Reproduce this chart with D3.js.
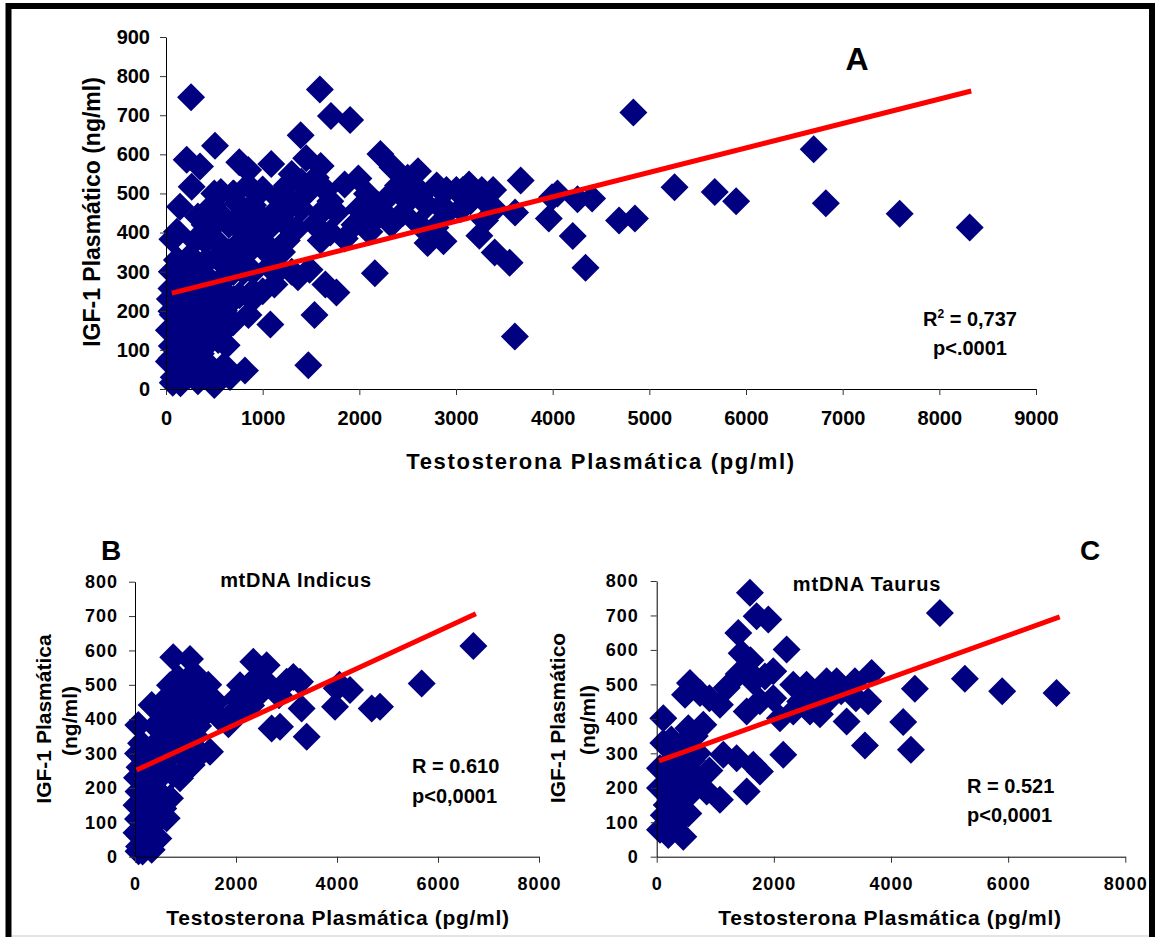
<!DOCTYPE html>
<html>
<head>
<meta charset="utf-8">
<script src="https://cdn.jsdelivr.net/npm/d3@7/dist/d3.min.js"></script>
<style>
  body { margin:0; background:#fff; }
  text { font-family: "Liberation Sans", Arial, sans-serif; font-weight: bold; fill:#000; }
</style>
</head>
<body>
<script>

// testosterone (pg/ml), IGF-1 (ng/ml)

// mtDNA Indicus (panel B)
var indicus = [
  [66,383],[120,330],[60,300],[180,310],[90,260],[40,230],[150,240],[230,270],[300,300],
  [70,190],[160,200],[250,210],[340,240],[420,330],[30,150],[110,160],[200,150],[290,180],
  [380,200],[480,230],[60,110],[140,120],[230,100],[320,130],[410,160],[520,180],[30,70],
  [100,60],[180,80],[270,60],[360,90],[450,120],[627,112],[80,30],[150,15],[240,35],
  [330,20],[462,53],[70,16],[550,260],[650,300],[495,383],[330,441],[825,344],[627,286],
  [1023,373],[891,228],[1122,267],[693,170],[500,420],[600,350],[800,400],[700,330],
  [900,300],[1000,250],[1200,350],[1300,300],[400,380],[850,520],[1100,420],[1250,520],
  [550,450],[760,240],[380,280],[560,140],
  [758,580],[1089,575],[693,499],[900,470],[1000,510],[1150,490],[1300,470],[1450,500],
  [1200,430],[950,420],[800,450],[1350,410],[1600,450],[1700,400],[1850,385],[1950,420],
  [2079,499],[2200,470],[2343,567],[2607,557],[2400,520],[2500,480],[2300,440],[2706,373],
  [3004,509],[3267,509],[3135,523],[3300,431],[3400,349],[2000,460],[2150,430],[2650,500],
  [2850,470],[1485,305],[1100,320],[1250,380],[4050,500],[3994,490],[3960,436],[4257,485],
  [4687,431],[4851,436],[5677,504],[6700,613],[2871,378]
]

// mtDNA Taurus (panel C)
var taurus = [
  [1592,766],[1706,698],[1905,688],[1393,649],[2218,601],[1450,590],[1600,570],[1550,540],
  [1400,530],[1195,490],[568,504],[483,470],[739,475],[1080,441],[900,460],[113,402],
  [113,330],[540,373],[796,383],[250,340],[400,320],[1137,296],[1365,286],[1649,267],
  [1763,247],[2161,296],[1536,189],[1080,165],[853,189],[56,199],[454,228],[56,257],
  [200,270],[320,250],[600,280],[700,230],[56,78],[198,63],[454,58],[227,112],[540,125],
  [171,150],[350,170],[260,210],[420,140],[300,300],[150,250],[600,200],[700,300],
  [350,100],[500,170],[250,160],[650,350],[900,250],[120,120],
  [2901,509],[3072,509],[3242,392],[2331,421],
  [2616,421],[2787,413],[2104,402],[2331,499],[2559,499],[1536,421],[1763,451],[1990,460],
  [1649,509],[1848,523],[1990,538],[2700,470],[2900,450],[3150,480],[3400,460],[4835,707],
  [5261,516],[5898,480],[6826,475],[4408,487],[4208,391],[4340,310],[3555,323],[3669,533],
  [3611,451],[3384,509],[2450,450]
]

// animals only in the pooled plot (panel A)
var untyped = [
  [259,746],[507,622],[214,586],[352,569],[266,517],[145,466],[3609,134],[7590,448],
  [8314,413],[1472,61],[817,47],[662,31],[400,420],[300,380],[550,330],[450,280],[350,200],
  [250,130],[600,60],[500,10],[1000,360],[1300,550],[1700,480],[2500,540],[2800,520],
  [3050,460],[3300,480],[650,420],[800,300],[950,380],[1150,450],[700,500],[500,500],
  [400,250],[600,240],[300,120],[450,40],[1250,420],[1600,380],[850,560],[1400,460]
]

var pooled = untyped.concat(indicus, taurus)

// regression lines (end points)
var trendA = [[60,245],[8330,762]]
var trendB = [[30,252],[6750,707]]
var trendC = [[40,278],[6880,696]]

var xTicksA = [0,1000,2000,3000,4000,5000,6000,7000,8000,9000]
var yTicksA = [0,100,200,300,400,500,600,700,800,900]
var xTicksBC = [0,2000,4000,6000,8000]
var yTicksBC = [0,100,200,300,400,500,600,700,800]

var w = 1155
var h = 937
var navy = "#000080"

var svg = d3.select("body").append("svg").attr("width",w).attr("height",h)

// outer frame
svg.append("rect").attr("x",8.5).attr("y",6).attr("width",1143.5).attr("height",h)
   .attr("fill","none").attr("stroke","#000").attr("stroke-width",6)
svg.append("rect").attr("x",12).attr("y",935).attr("width",1137).attr("height",2).attr("fill","#e4e4e4")

function panel(pts, trend, xs, ys, xTicks, yTicks, o){

  var g = svg.append("g")

  g.selectAll(".pt")
   .data(pts)
   .enter()
   .append("path")
   .attr("class","pt")
   .attr("d", d3.symbol(d3.symbolSquare, 392))
   .attr("transform", function(d){
       return "translate(" + xs(d[0]) + "," + ys(d[1]) + ") rotate(45)"
   })
   .attr("fill", navy)

  var line = d3.line()
      .x(function(d){ return xs(d[0]) })
      .y(function(d){ return ys(d[1]) })

  g.append("path").datum(trend).attr("d",line)
   .attr("stroke","#ff0000").attr("stroke-width",5).attr("fill","none")

  var fmt = d3.format("d")
  var xg = g.append("g")
      .attr("transform","translate(0," + ys(0) + ")")
      .call(d3.axisBottom(xs).tickValues(xTicks).tickFormat(fmt).tickSize(6).tickSizeOuter(0).tickPadding(o.xPad))
  var yg = g.append("g")
      .attr("transform","translate(" + xs(0) + ",0)")
      .call(d3.axisLeft(ys).tickValues(yTicks).tickFormat(fmt).tickSize(6).tickSizeOuter(0).tickPadding(o.yPad))

  ;[xg,yg].forEach(function(a){
    a.attr("font-family",null).attr("font-size",null)
    a.select(".domain").attr("stroke","#000")
    a.selectAll(".tick line").attr("stroke","#333")
    a.selectAll("text").style("font-size",o.tickFont+"px").style("letter-spacing",o.tickLs+"px")
  })
  return g
}

// ---- panel A
var xA = d3.scaleLinear().domain([0,9000]).range([166,1036])
var yA = d3.scaleLinear().domain([0,900]).range([389,37])
panel(pooled, trendA, xA, yA, xTicksA, yTicksA, {xPad:16, yPad:10, tickFont:20, tickLs:0})

svg.append("text").attr("x",857).attr("y",70).attr("text-anchor","middle")
   .style("font-size","32px").text("A")
var r2 = svg.append("text").attr("x",970).attr("y",326).attr("text-anchor","middle").style("font-size","20px")
r2.append("tspan").text("R")
r2.append("tspan").attr("dy",-8).style("font-size","12px").text("2")
r2.append("tspan").attr("dy",8).text(" = 0,737")
svg.append("text").attr("x",970).attr("y",355).attr("text-anchor","middle")
   .style("font-size","20px").text("p<.0001")
svg.append("text").attr("x",601).attr("y",469).attr("text-anchor","middle")
   .style("font-size","22px").style("letter-spacing","1.7px").text("Testosterona Plasmática (pg/ml)")
svg.append("text").attr("transform","translate(100,212) rotate(-90)").attr("text-anchor","middle")
   .style("font-size","23px").text("IGF-1 Plasmático (ng/ml)")

// ---- panel B
var xB = d3.scaleLinear().domain([0,8000]).range([135,539])
var yB = d3.scaleLinear().domain([0,800]).range([856.7,581.7])
panel(indicus, trendB, xB, yB, xTicksBC, yTicksBC, {xPad:15, yPad:11, tickFont:18, tickLs:1})

svg.append("text").attr("x",111).attr("y",560).attr("text-anchor","middle")
   .style("font-size","28px").text("B")
svg.append("text").attr("x",296).attr("y",587).attr("text-anchor","middle")
   .style("font-size","20px").style("letter-spacing","0.7px").text("mtDNA Indicus")
svg.append("text").attr("x",412).attr("y",773).style("font-size","20px").text("R = 0.610")
svg.append("text").attr("x",412).attr("y",803).style("font-size","20px").text("p<0,0001")
svg.append("text").attr("x",338).attr("y",925).attr("text-anchor","middle")
   .style("font-size","21px").style("letter-spacing","0.7px").text("Testosterona Plasmática (pg/ml)")
svg.append("text").attr("transform","translate(51,719) rotate(-90)").attr("text-anchor","middle")
   .style("font-size","21px").text("IGF-1 Plasmática")
svg.append("text").attr("transform","translate(77,721) rotate(-90)").attr("text-anchor","middle")
   .style("font-size","21px").text("(ng/ml)")

// ---- panel C
var xC = d3.scaleLinear().domain([0,8000]).range([656.7,1125.3])
var yC = d3.scaleLinear().domain([0,800]).range([856.7,581])
panel(taurus, trendC, xC, yC, xTicksBC, yTicksBC, {xPad:15, yPad:12, tickFont:18, tickLs:1})

svg.append("text").attr("x",1090).attr("y",560).attr("text-anchor","middle")
   .style("font-size","28px").text("C")
svg.append("text").attr("x",867).attr("y",591).attr("text-anchor","middle")
   .style("font-size","20px").style("letter-spacing","0.9px").text("mtDNA Taurus")
svg.append("text").attr("x",967).attr("y",793).style("font-size","20px").text("R = 0.521")
svg.append("text").attr("x",967).attr("y",822).style("font-size","20px").text("p<0,0001")
svg.append("text").attr("x",890).attr("y",925).attr("text-anchor","middle")
   .style("font-size","21px").style("letter-spacing","0.7px").text("Testosterona Plasmática (pg/ml)")
svg.append("text").attr("transform","translate(565,718) rotate(-90)").attr("text-anchor","middle")
   .style("font-size","21px").text("IGF-1 Plasmático")
svg.append("text").attr("transform","translate(595,720) rotate(-90)").attr("text-anchor","middle")
   .style("font-size","21px").text("(ng/ml)")

</script>
</body>
</html>
